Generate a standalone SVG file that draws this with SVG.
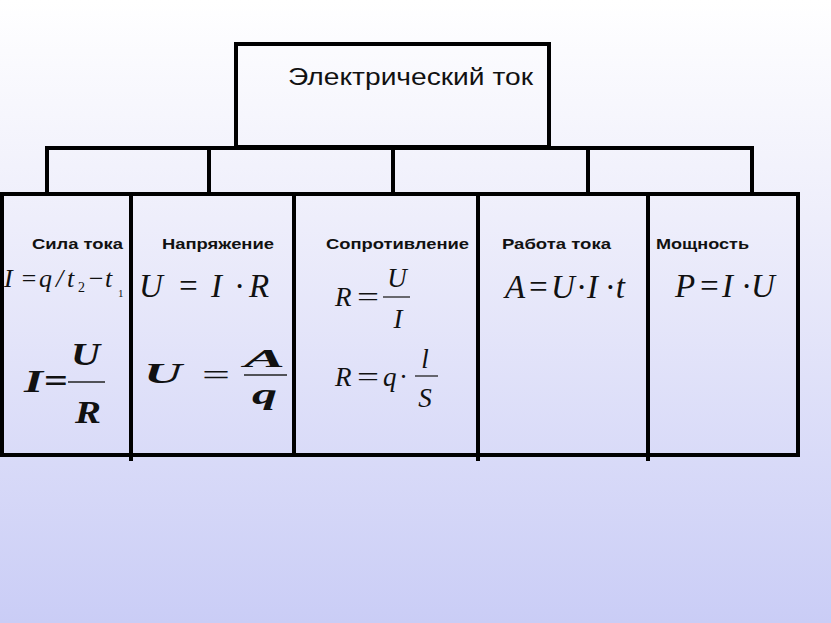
<svg xmlns="http://www.w3.org/2000/svg" width="831" height="623" viewBox="0 0 831 623">
<defs>
<linearGradient id="bg" x1="0" y1="0" x2="0" y2="1">
<stop offset="0" stop-color="#ffffff"/>
<stop offset="0.35" stop-color="#eeeefb"/>
<stop offset="1" stop-color="#cacdf6"/>
</linearGradient>
<style>
.box{fill:none;stroke:#000;stroke-width:4}
.ln{stroke:#000;stroke-width:4;fill:none}
.thin{stroke:#222;stroke-width:1.3}
.title{font-family:"Liberation Sans",Arial,sans-serif;font-size:23px;fill:#111}
.lab{font-family:"Liberation Sans",Arial,sans-serif;font-size:15px;font-weight:bold;fill:#111}
.m{font-family:"Liberation Serif","Times New Roman",serif;font-style:italic;fill:#111}
.n{font-family:"Liberation Serif","Times New Roman",serif;font-style:normal;fill:#111}
.mb{font-family:"Liberation Serif","Times New Roman",serif;font-style:italic;font-weight:bold;fill:#111}
</style>
</defs>
<rect x="0" y="0" width="831" height="623" fill="url(#bg)"/>

<g id="connectors">
<line class="ln" x1="45" y1="148" x2="754" y2="148"/>
<line class="ln" x1="47" y1="148" x2="47" y2="193"/>
<line class="ln" x1="209" y1="148" x2="209" y2="193"/>
<line class="ln" x1="393" y1="148" x2="393" y2="193"/>
<line class="ln" x1="588" y1="148" x2="588" y2="193"/>
<line class="ln" x1="752" y1="148" x2="752" y2="193"/>
</g>

<g id="root">
<rect class="box" x="236" y="44" width="313" height="103"/>
<text class="title" x="288" y="85" textLength="245" lengthAdjust="spacingAndGlyphs">Электрический ток</text>
</g>

<g id="row">
<rect class="box" x="2" y="194" width="796" height="261"/>
<line class="ln" x1="131" y1="194" x2="131" y2="461"/>
<line class="ln" x1="294" y1="194" x2="294" y2="455"/>
<line class="ln" x1="478" y1="194" x2="478" y2="461"/>
<line class="ln" x1="648" y1="194" x2="648" y2="461"/>
</g>

<g id="sila-toka">
<text class="lab" x="32" y="249" textLength="91" lengthAdjust="spacingAndGlyphs">Сила тока</text>
<text class="m" x="4" y="287" font-size="26">I<tspan dx="7.3">=</tspan><tspan dx="1.45">q</tspan><tspan dx="4">/</tspan><tspan dx="3.8">t</tspan><tspan class="n" dx="3.8" dy="5" font-size="14">2</tspan><tspan dx="2" dy="-5">−</tspan><tspan dx="0.45">t</tspan><tspan class="n" dx="5.8" dy="10" font-size="11">1</tspan></text>
<text class="mb" x="24" y="392" font-size="32" textLength="19" lengthAdjust="spacingAndGlyphs">I</text>
<text class="n" x="44" y="392" font-size="34" font-weight="bold" textLength="24" lengthAdjust="spacingAndGlyphs">=</text>
<line class="thin" x1="68" y1="382" x2="105" y2="382"/>
<text class="mb" x="71" y="365" font-size="32" textLength="29" lengthAdjust="spacingAndGlyphs">U</text>
<text class="mb" x="75" y="423" font-size="32" textLength="26" lengthAdjust="spacingAndGlyphs">R</text>
</g>

<g id="napryazhenie">
<text class="lab" x="162" y="249" textLength="112" lengthAdjust="spacingAndGlyphs">Напряжение</text>
<text class="m" x="139" y="297" font-size="33">U<tspan dx="14.2">=</tspan><tspan dx="11.7">I</tspan><tspan dx="13">·</tspan><tspan dx="5.75">R</tspan></text>
<text class="mb" x="144" y="383" font-size="30" textLength="38" lengthAdjust="spacingAndGlyphs">U</text>
<text class="n" x="202" y="385" font-size="30" textLength="28" lengthAdjust="spacingAndGlyphs">=</text>
<line class="thin" x1="244" y1="375" x2="287" y2="375" stroke-width="1.8"/>
<text class="mb" x="244" y="367" font-size="25" textLength="41" lengthAdjust="spacingAndGlyphs">A</text>
<text class="mb" x="252" y="404" font-size="30" textLength="25" lengthAdjust="spacingAndGlyphs">q</text>
</g>

<g id="soprotivlenie">
<text class="lab" x="326" y="249" textLength="143" lengthAdjust="spacingAndGlyphs">Сопротивление</text>
<text class="m" x="335" y="306" font-size="27">R</text>
<text class="n" x="357" y="306" font-size="27" textLength="22" lengthAdjust="spacingAndGlyphs">=</text>
<line class="thin" x1="383" y1="297" x2="410" y2="297"/>
<text class="m" x="397" y="287" font-size="27" text-anchor="middle">U</text>
<text class="m" x="398" y="328" font-size="27" text-anchor="middle">I</text>
<text class="m" x="335" y="386" font-size="27">R</text>
<text class="n" x="357" y="386" font-size="27" textLength="22" lengthAdjust="spacingAndGlyphs">=</text>
<text class="m" x="383" y="386" font-size="27">q</text>
<text class="n" x="399" y="386" font-size="27">·</text>
<line class="thin" x1="415" y1="376" x2="438" y2="376"/>
<text class="m" x="425" y="368" font-size="27" text-anchor="middle">l</text>
<text class="m" x="425" y="407" font-size="27" text-anchor="middle">S</text>
</g>

<g id="rabota-toka">
<text class="lab" x="502" y="249" textLength="109" lengthAdjust="spacingAndGlyphs">Работа тока</text>
<text class="m" x="505" y="298" font-size="33">A<tspan dx="1.8">=</tspan><tspan dx="1.7">U</tspan><tspan dx="2.2">·</tspan><tspan dx="1.75">I</tspan><tspan dx="7.75">·</tspan><tspan dx="1.75">t</tspan></text>
</g>

<g id="moshchnost">
<text class="lab" x="656" y="249" textLength="93" lengthAdjust="spacingAndGlyphs">Мощность</text>
<text class="m" x="675" y="297" font-size="33">P<tspan dx="2.8">=</tspan><tspan dx="1.7">I</tspan><tspan dx="9">·</tspan><tspan dx="0.75">U</tspan></text>
</g>
</svg>
